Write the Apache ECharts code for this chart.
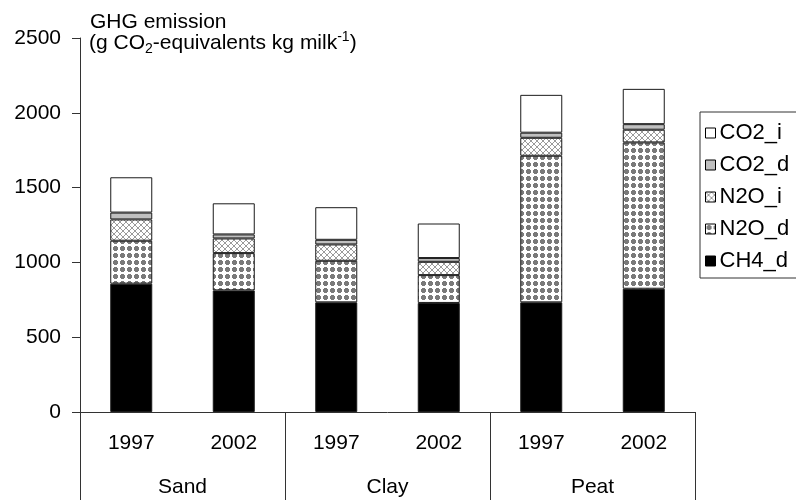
<!DOCTYPE html>
<html>
<head>
<meta charset="utf-8">
<script src="https://cdn.jsdelivr.net/npm/echarts@6/dist/echarts.min.js"></script>
<style>
html,body{margin:0;padding:0;background:#fff;}
#chart{width:796px;height:500px;}
</style>
</head>
<body>
<div id="chart"></div>
<script>
// ---- data ----
const groups = ['Sand', 'Clay', 'Peat'];
const years = ['1997', '2002', '1997', '2002', '1997', '2002'];
const CH4_d = [858, 813, 733, 729, 733, 824];
const N2O_d = [287, 249, 278, 186, 980, 978];
const N2O_i = [142, 98, 109, 89, 120, 85];
const CO2_d = [46, 27, 31, 25, 34, 37];
const CO2_i = [236, 208, 218, 231, 253, 236];
const yMin = 0, yMax = 2500, yStep = 500;
const legendOrder = ['CO2_i', 'CO2_d', 'N2O_i', 'N2O_d', 'CH4_d'];

// ---- patterns ----
function dotPattern() {
  const c = document.createElement('canvas');
  c.width = 7; c.height = 7;
  const g = c.getContext('2d');
  g.fillStyle = '#fff'; g.fillRect(0, 0, 7, 7);
  g.fillStyle = '#7a7a7a';
  g.fillRect(1, 2, 5, 3);
  g.fillRect(2, 1, 3, 5);
  return c;
}
function hatchPattern() {
  const c = document.createElement('canvas');
  c.width = 6; c.height = 6;
  const g = c.getContext('2d');
  g.fillStyle = '#fff'; g.fillRect(0, 0, 6, 6);
  g.fillStyle = '#9a9a9a';
  for (let i = 0; i < 6; i++) {
    g.fillRect(i, i, 1, 1);
    g.fillRect(5 - i, i, 1, 1);
  }
  return c;
}

const FONT = 'Liberation Sans, Arial, sans-serif';
const border = { borderColor: '#1a1a1a', borderWidth: 1 };

function mk(name, data, color) {
  return {
    name: name, type: 'bar', stack: 'total', data: data,
    barWidth: 42,
    itemStyle: Object.assign({ color: color }, border),
    emphasis: { disabled: true }
  };
}

const chart = echarts.init(document.getElementById('chart'), null, { renderer: 'canvas' });
chart.setOption({
  animation: false,
  backgroundColor: '#fff',
  textStyle: { fontFamily: FONT },
  grid: { left: 80, right: 101, top: 38, bottom: 88, containLabel: false },
  legend: {
    orient: 'vertical', left: 700, top: 112,
    data: legendOrder,
    icon: 'rect', itemWidth: 10, itemHeight: 10, itemGap: 10,
    borderColor: '#333', borderWidth: 1, padding: [10, 10, 6, 5],
    textStyle: { fontSize: 22, color: '#000', fontFamily: FONT, padding: [0, 0, 0, -1] },
    itemStyle: { borderColor: '#000', borderWidth: 1 }
  },
  xAxis: [
    {
      type: 'category', data: years, gridIndex: 0, position: 'bottom', offset: 0,
      axisLine: { lineStyle: { color: '#333', width: 1 } },
      axisTick: { show: false },
      axisLabel: { fontSize: 21, color: '#000', margin: 21, fontFamily: FONT, interval: 0 }
    },
    {
      type: 'category', data: groups, gridIndex: 0, position: 'bottom', offset: 0,
      axisLine: { show: false },
      axisTick: { show: true, length: 90, interval: 0, lineStyle: { color: '#333', width: 1 } },
      axisLabel: { fontSize: 21, color: '#000', margin: 65, fontFamily: FONT, interval: 0 }
    }
  ],
  yAxis: {
    type: 'value', min: yMin, max: yMax, interval: yStep,
    axisLine: { show: true, lineStyle: { color: '#333', width: 1 } },
    axisTick: { show: true, length: 8, lineStyle: { color: '#333' } },
    axisLabel: { fontSize: 21, color: '#000', margin: 19, fontFamily: FONT,
      formatter: function (v) { return String(v); } },
    splitLine: { show: false }
  },
  graphic: [
    {
      type: 'text', left: 90, top: 12,
      style: { text: 'GHG emission', font: '21px ' + FONT, fill: '#000' }
    },
    {
      type: 'text', left: 89, top: 30,
      style: {
        text: '(g CO{sub|2}-equivalents kg milk{sup|-1})',
        font: '21px ' + FONT, fill: '#000', lineHeight: 26,
        rich: {
          sub: { fontSize: 14, fontFamily: FONT, lineHeight: 14, verticalAlign: 'bottom', fill: '#000' },
          sup: { fontSize: 14, fontFamily: FONT, lineHeight: 14, verticalAlign: 'top', fill: '#000' }
        }
      }
    }
  ],
  series: [
    mk('CH4_d', CH4_d, '#000'),
    mk('N2O_d', N2O_d, { image: dotPattern(), repeat: 'repeat' }),
    mk('N2O_i', N2O_i, { image: hatchPattern(), repeat: 'repeat' }),
    mk('CO2_d', CO2_d, '#c0c0c0'),
    mk('CO2_i', CO2_i, '#fff')
  ]
});
</script>
</body>
</html>
